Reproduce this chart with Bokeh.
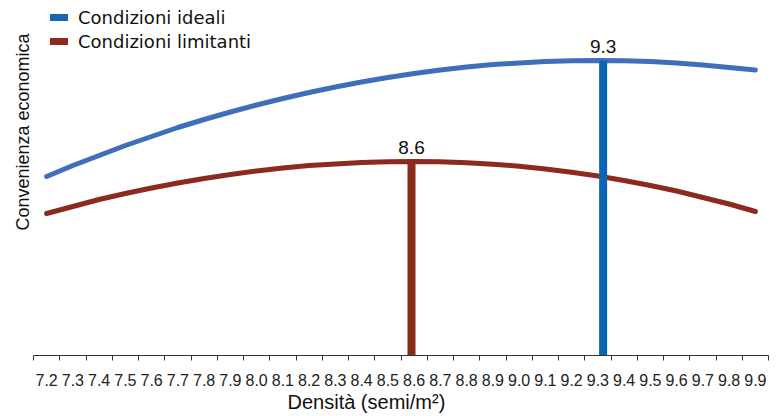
from bokeh.plotting import figure
from bokeh.models import Range1d, FixedTicker, Legend, LegendItem, CustomJSTickFormatter, Title
from bokeh.core.properties import value
from bokeh.embed import file_html
from bokeh.resources import INLINE

# ---- data ----
densita = [7.2, 7.3, 7.4, 7.5, 7.6, 7.7, 7.8, 7.9, 8.0, 8.1, 8.2, 8.3, 8.4, 8.5,
           8.6, 8.7, 8.8, 8.9, 9.0, 9.1, 9.2, 9.3, 9.4, 9.5, 9.6, 9.7, 9.8, 9.9]
ideali = [179, 190, 200, 210, 219, 228, 236, 243.5, 250.5, 257, 263, 268.5, 273.5, 278,
          282, 285.5, 288.5, 291, 292.5, 294, 294.7, 295, 294.7, 294, 292.5, 290.5, 288, 285.5]
limitanti = [142, 149, 156, 162, 167.5, 172.5, 177, 181, 184.5, 187.5, 190, 191.5, 193, 193.7,
             194, 193.7, 192.8, 191.3, 189.3, 186.6, 183.3, 179.5, 175, 170, 164.5, 158, 151.5, 144]
ottimo_ideali = 9.32
ottimo_limitanti = 8.59
picco_ideali = 295
picco_limitanti = 194
serie_nomi = ["Condizioni ideali", "Condizioni limitanti"]
asse_x_titolo = "Densità (semi/m²)"
asse_y_titolo = "Convenienza economica"

# ---- colours ----
c_blu_linea = "#3F6FBA"
c_blu_barra = "#0A66B3"
c_blu_leg = "#1766B5"
c_rosso = "#8B2A1E"

p = figure(width=771, height=416, output_backend="svg", toolbar_location=None,
           x_range=Range1d(7.15, 9.95), y_range=Range1d(0, 347),
           y_axis_location=None,
           min_border_left=33, min_border_right=3, min_border_top=8, min_border_bottom=61)
p.outline_line_color = None
p.grid.visible = False
p.background_fill_color = "white"
p.border_fill_color = "white"

# x axis: labels at category centres, tick marks at category boundaries
confini = [round(d - 0.05, 2) for d in densita] + [round(densita[-1] + 0.05, 2)]
p.xaxis.ticker = FixedTicker(ticks=densita, minor_ticks=confini)
p.xaxis.formatter = CustomJSTickFormatter(code="return tick.toFixed(1)")
p.xaxis.major_tick_out = 0
p.xaxis.major_tick_in = 0
p.xaxis.minor_tick_out = 5
p.xaxis.minor_tick_in = 0
p.xaxis.minor_tick_line_color = "#333333"
p.xaxis.axis_line_color = "#333333"
p.xaxis.major_label_standoff = 13
p.xaxis.major_label_text_font = "Liberation Sans"
p.xaxis.major_label_text_font_size = "16px"
p.xaxis.major_label_text_color = "#222222"

# curves
p.line(densita, ideali, line_color=c_blu_linea, line_width=5,
       line_cap="round", line_join="round")
p.line(densita, limitanti, line_color=c_rosso, line_width=5,
       line_cap="round", line_join="round")

# optimum bars
p.segment(x0=[ottimo_limitanti], y0=[0], x1=[ottimo_limitanti], y1=[picco_limitanti],
          line_color=c_rosso, line_width=8, line_cap="butt")
p.segment(x0=[ottimo_ideali], y0=[0], x1=[ottimo_ideali], y1=[picco_ideali],
          line_color=c_blu_barra, line_width=8, line_cap="butt")

# value labels
p.text(x=[ottimo_ideali, ottimo_limitanti], y=[picco_ideali, picco_limitanti],
       text=[f"{ottimo_ideali:.1f}", f"{ottimo_limitanti:.1f}"],
       y_offset=-8, text_align="center", text_baseline="bottom",
       text_font=value("Liberation Sans"), text_font_size="19px", text_color="#111111")

# legend (dummy glyphs for the swatches)
nan = float("nan")
g1 = p.line([nan], [nan], line_color=c_blu_leg, line_width=7, line_cap="round")
g2 = p.line([nan], [nan], line_color=c_rosso, line_width=7, line_cap="round")
legend = Legend(items=[LegendItem(label=serie_nomi[0], renderers=[g1]),
                       LegendItem(label=serie_nomi[1], renderers=[g2])],
                location=(17, 302), orientation="vertical",
                padding=0, margin=0, spacing=0,
                glyph_width=18, glyph_height=24, label_height=24, label_standoff=10,
                border_line_color=None, background_fill_alpha=0,
                label_text_font="DejaVu Sans", label_text_font_size="18px",
                label_text_color="#111111")
p.add_layout(legend, "center")

# axis titles
p.add_layout(Title(text=asse_y_titolo, align="left", offset=125, standoff=0,
                   vertical_align="middle", text_font="Liberation Sans",
                   text_font_size="18px", text_font_style="normal",
                   text_color="#111111"), "left")
p.add_layout(Title(text=asse_x_titolo, align="left", offset=254, standoff=0,
                   vertical_align="bottom", text_font="Liberation Sans",
                   text_font_size="20px", text_font_style="normal",
                   text_color="#111111"), "below")

open("out.html", "w").write(file_html(p, INLINE))
